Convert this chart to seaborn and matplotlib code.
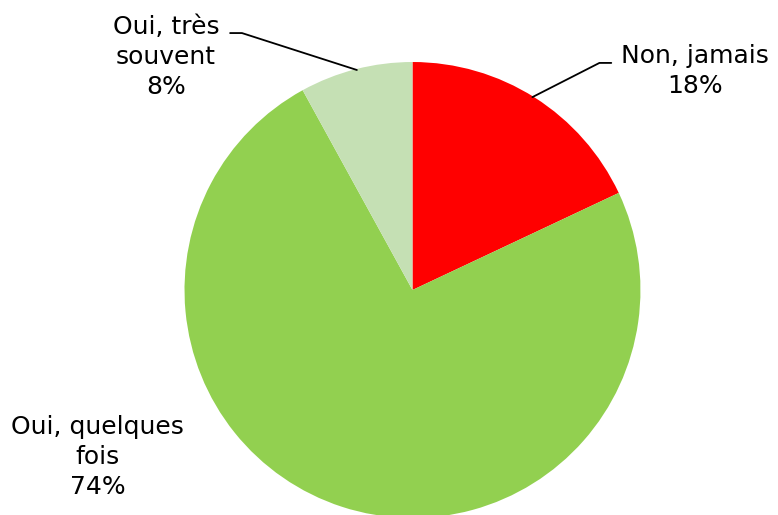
import numpy as np
import matplotlib
matplotlib.use("Agg")
import matplotlib.pyplot as plt
import seaborn as sns

# --- DATA ---
categories = ["Non, jamais", "Oui, quelques\nfois", "Oui, très\nsouvent"]
shares = [18, 74, 8]
colors = ["#FF0000", "#92D050", "#C5E0B4"]

sns.set_theme(style="white")
plt.rcParams['font.family'] = ['DejaVu Sans']

fig = plt.figure(figsize=(7.78, 5.15), dpi=100)
ax = fig.add_axes([0, 0, 1, 1])

ax.pie(shares, colors=colors, startangle=90, counterclock=False,
       radius=1.0, center=(0, 0), frame=False,
       wedgeprops=dict(linewidth=0))

# axis limits chosen so the pie sits where it does in the reference
ax.set_xlim(-1.809, 1.603)
ax.set_ylim(-0.987, 1.272)
ax.set_aspect('equal')
ax.axis('off')

label_pos = [(1.239, 0.96), (-1.381, -0.732), (-1.081, 1.022)]
for cat, val, (x, y) in zip(categories, shares, label_pos):
    ax.text(x, y, f"{cat}\n{val}%", ha='center', va='center',
            fontsize=18, color='black', linespacing=1.3)

# leader lines
ax.plot([0.872, 0.820, 0.526], [0.996, 0.996, 0.846], color='black', lw=1.3)
ax.plot([-0.800, -0.748, -0.244], [1.127, 1.127, 0.965], color='black', lw=1.3)

plt.savefig("out.png", dpi=100)
plt.close()
